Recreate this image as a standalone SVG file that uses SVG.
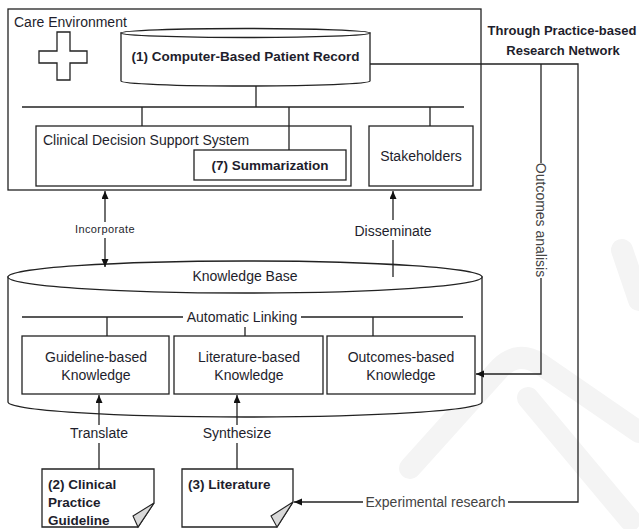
<svg xmlns="http://www.w3.org/2000/svg" width="639" height="529" viewBox="0 0 639 529">
<style>
  .ln{fill:none;stroke:#222;stroke-width:1.3}
  .box{fill:#fff;stroke:#222;stroke-width:1.3}
  .t{font-family:"Liberation Sans",Arial,sans-serif;font-size:14px;fill:#1e1e2c}
  .b{font-family:"Liberation Sans",Arial,sans-serif;font-size:13.5px;font-weight:bold;fill:#1e1e2c}
  .g{font-family:"Liberation Sans",Arial,sans-serif;font-size:14px;fill:#444}
  .m{text-anchor:middle}
  .wm{fill:none;stroke:#f4f4f4;stroke-width:22;stroke-linecap:round}
</style>
<defs>
  <marker id="arr" markerUnits="userSpaceOnUse" markerWidth="8" markerHeight="8" refX="8" refY="3.5" orient="auto">
    <path d="M0,0 L8,3.5 L0,7 Z" fill="#111"/>
  </marker>
</defs>
<rect width="639" height="529" fill="#fff"/>
<g id="watermark">
  <path class="wm" d="M410,468 L500,368 Q518,350 540,364 L639,432"/>
  <path class="wm" d="M528,398 L630,520"/>
  <path class="wm" d="M622,250 L639,300"/>
</g>

<g id="care-environment">
  <rect class="box" x="8" y="9" width="473" height="181"/>
  <text class="t" x="14" y="27">Care Environment</text>
  <path class="box" d="M57,32 H70 V51 H87 V63 H70 V80 H57 V63 H39 V51 H57 Z"/>
</g>

<g id="patient-record">
  <path class="box" d="M121,33 V81 A124.5,5 0 0 0 370,81 V33 Z"/>
  <ellipse class="box" cx="245.5" cy="33" rx="124.5" ry="4.5"/>
  <text class="b m" x="245.5" y="61">(1) Computer-Based Patient Record</text>
</g>

<g id="cdss">
  <rect class="box" x="36" y="126" width="315" height="60"/>
  <text class="t" x="43" y="145">Clinical Decision Support System</text>
</g>
<g id="summarization">
  <rect class="box" x="194" y="150" width="152" height="30"/>
  <text class="b m" x="270" y="170">(7) Summarization</text>
</g>
<g id="stakeholders">
  <rect class="box" x="369" y="126" width="104" height="60"/>
  <text class="t m" x="421" y="161">Stakeholders</text>
</g>

<g id="knowledge-base">
  <path class="box" d="M8,277 V402 A237,15 0 0 0 482,402 V277 Z"/>
  <ellipse class="box" cx="245" cy="277" rx="237" ry="16"/>
  <text class="t m" x="245" y="281">Knowledge Base</text>
</g>
<g id="guideline-knowledge">
  <rect class="box" x="22" y="336" width="147" height="58"/>
  <text class="t m" x="96" y="362">Guideline-based</text>
  <text class="t m" x="96" y="380">Knowledge</text>
</g>
<g id="literature-knowledge">
  <rect class="box" x="174" y="336" width="149" height="58"/>
  <text class="t m" x="249" y="362">Literature-based</text>
  <text class="t m" x="249" y="380">Knowledge</text>
</g>
<g id="outcomes-knowledge">
  <rect class="box" x="327" y="336" width="148" height="58"/>
  <text class="t m" x="401" y="362">Outcomes-based</text>
  <text class="t m" x="401" y="380">Knowledge</text>
</g>

<g id="clinical-guideline">
  <path class="box" d="M42,469 H154 V503 L138,527 H42 Z"/>
  <path d="M154,503 L138,527 L133,516 Z" fill="#d9d9d9" stroke="#222" stroke-width="1.1"/>
  <text class="b" x="48" y="489">(2) Clinical</text>
  <text class="b" x="48" y="507">Practice</text>
  <text class="b" x="48" y="525">Guideline</text>
</g>
<g id="literature">
  <path class="box" d="M182,469 H293 V502 L277,527 H182 Z"/>
  <path d="M293,502 L277,527 L271,516 Z" fill="#d9d9d9" stroke="#222" stroke-width="1.1"/>
  <text class="b" x="188" y="489">(3) Literature</text>
</g>

<g id="connectors">
  <path class="ln" d="M256,86 V107"/>
  <path class="ln" d="M22,107 H464"/>
  <path class="ln" d="M142,107 V126 M289,107 V150 M430,107 V126"/>
  <path class="ln" d="M370,64 H578 V502 H508"/>
  <path class="ln" d="M363,502 H294" marker-end="url(#arr)"/>
  <path class="ln" d="M541,64 V163"/>
  <path class="ln" d="M541,278 V374 H476" marker-end="url(#arr)"/>
  <path class="ln" d="M105,222 V191" marker-end="url(#arr)"/>
  <path class="ln" d="M105,238 V267" marker-end="url(#arr)"/>
  <path class="ln" d="M393,240 V277"/>
  <path class="ln" d="M393,220 V191" marker-end="url(#arr)"/>
  <path class="ln" d="M22,317 H183 M301,317 H463"/>
  <path class="ln" d="M107,317 V336 M245,327 V336 M373,317 V336"/>
  <path class="ln" d="M99,443 V469"/>
  <path class="ln" d="M99,425 V395" marker-end="url(#arr)"/>
  <path class="ln" d="M237,443 V469"/>
  <path class="ln" d="M237,425 V395" marker-end="url(#arr)"/>
</g>

<g id="labels">
  <text class="b m" x="562" y="35" style="font-size:13px">Through Practice-based</text>
  <text class="b m" x="563" y="55" style="font-size:13px">Research Network</text>
  <text class="t m" x="105" y="233" style="font-size:11px;letter-spacing:0.4px">Incorporate</text>
  <text class="t m" x="393" y="236">Disseminate</text>
  <text class="t m" x="242" y="322">Automatic Linking</text>
  <text class="t m" x="99" y="438">Translate</text>
  <text class="t m" x="237" y="438">Synthesize</text>
  <text class="g m" x="435.5" y="507">Experimental research</text>
  <text class="g m" transform="translate(541,220) rotate(90)" x="0" y="5">Outcomes analisis</text>
</g>
</svg>
